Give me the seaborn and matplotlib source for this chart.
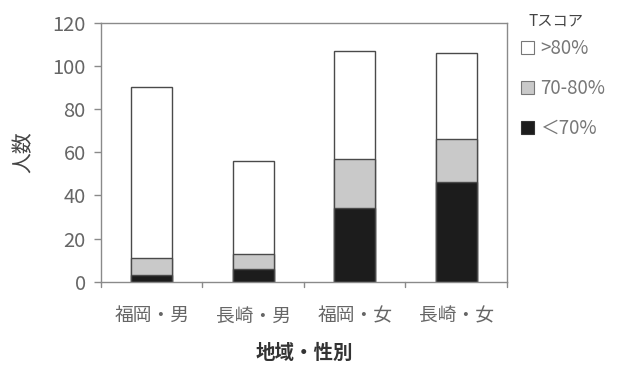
import matplotlib
matplotlib.use("Agg")
import matplotlib.pyplot as plt
from matplotlib.patches import Patch
import seaborn as sns
import pandas as pd

# Counts per group, split by T-score band
categories = ["福岡・男", "長崎・男", "福岡・女", "長崎・女"]
below_70 = [3, 6, 34, 46]
band_70_80 = [8, 7, 23, 20]
above_80 = [79, 43, 50, 40]
legend_labels = [">80%", "70-80%", "＜70%"]
y_ticks = [0, 20, 40, 60, 80, 100, 120]

sns.set_theme(style="white")
plt.rcParams["font.family"] = ["Noto Sans CJK JP", "DejaVu Sans"]

df = pd.DataFrame({
    "group": categories,
    "low": below_70,
    "mid": band_70_80,
    "high": above_80,
})
df["cum_mid"] = df["low"] + df["mid"]
df["cum_high"] = df["cum_mid"] + df["high"]

fig = plt.figure(figsize=(6.17, 3.69), dpi=100)
ax = fig.add_axes([0.1637, 0.2366, 0.6580, 0.7019])

edge = "#4a4a4a"
colors = {"high": "#ffffff", "mid": "#c9c9c9", "low": "#1c1c1c"}

# Stacked bars: draw cumulative totals back to front
for col, key in [("cum_high", "high"), ("cum_mid", "mid"), ("low", "low")]:
    sns.barplot(data=df, x="group", y=col, order=categories, color=colors[key],
                width=0.4, edgecolor=edge, linewidth=1.0, saturation=1, ax=ax)

ax.set_ylim(0, 120)
ax.set_yticks(y_ticks)
ax.set_xlim(-0.5, 3.5)

spine_c = "#8a8a8a"
for s in ax.spines.values():
    s.set_visible(True)
    s.set_color(spine_c)
    s.set_linewidth(1.0)

ax.tick_params(axis="y", direction="out", length=5, width=1, color=spine_c,
               labelsize=14.5, labelcolor="#666666", pad=6, left=True)
# Category ticks sit at the boundaries between bars
ax.set_xticks([0, 1, 2, 3])
ax.set_xticklabels(categories)
ax.tick_params(axis="x", length=0, labelsize=13.5, labelcolor="#666666", pad=17)
for xb in [-0.5, 0.5, 1.5, 2.5, 3.5]:
    ax.plot([xb, xb], [0, -2.3], color=spine_c, lw=1, clip_on=False)

ax.set_xlabel("地域・性別", fontsize=14, color="#333333", fontweight="bold")
ax.xaxis.set_label_coords(0.5, -0.238)
ax.set_ylabel("人数", fontsize=15, color="#444444")
ax.yaxis.set_label_coords(-0.165, 0.5)

handles = [Patch(facecolor=colors["high"], edgecolor="#777777", lw=0.8),
           Patch(facecolor=colors["mid"], edgecolor="#777777", lw=0.8),
           Patch(facecolor=colors["low"], edgecolor="#333333", lw=0.8)]
leg = ax.legend(handles, legend_labels, loc="upper left",
                bbox_to_anchor=(1.035, 0.94), frameon=False, fontsize=13.5,
                handlelength=0.7, handleheight=0.7,
                handletextpad=0.3, labelspacing=1.0, borderaxespad=0,
                borderpad=0)
for t in leg.get_texts():
    t.set_color("#777777")
fig.text(556 / 617, 1 - 21 / 369, "Tスコア", fontsize=11, color="#444444",
         ha="center", va="center")

fig.savefig("out.png", dpi=100)
